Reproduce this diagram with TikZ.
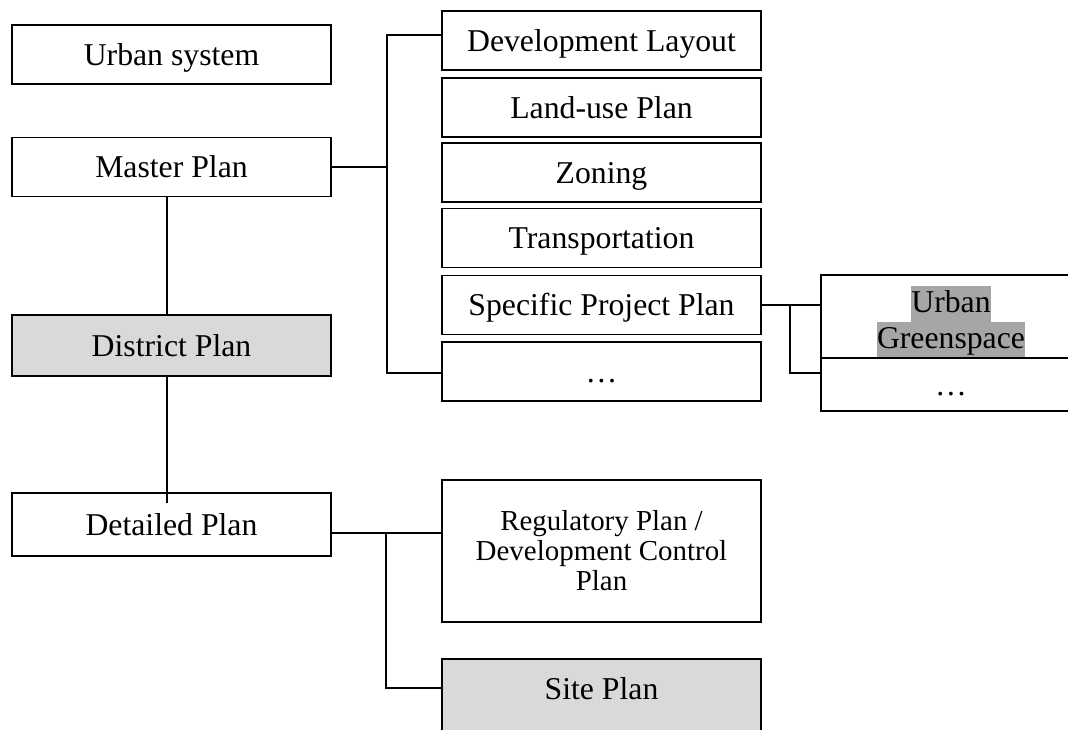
\documentclass[tikz,border=0pt]{standalone}
\usepackage{fontspec}
\setmainfont{Liberation Serif}
\definecolor{lg}{HTML}{D9D9D9}
\definecolor{hl}{HTML}{A6A6A6}
\newcommand\hlw[1]{{\setlength{\fboxsep}{0pt}\colorbox{hl}{\rule[-6.5pt]{0pt}{27pt}#1}}}
\begin{document}
\begin{tikzpicture}[x=0.75pt,y=-0.75pt,
  box/.style={draw=black, line width=1.2pt, inner sep=0pt, fill=white,
    minimum width=239.25pt, minimum height=44.25pt, align=center,
    font=\fontsize{23.8pt}{27pt}\selectfont},
  one/.style={text height=16.3pt, text depth=0pt},
  gbox/.style={box, minimum width=195pt},
  conn/.style={draw=black, line width=0.95pt}]
\useasboundingbox (0,0) rectangle (1068,729);
\clip (0,0) rectangle (1068,729);
% left column
\node[box, one] (us) at (171.5,54.5) {Urban system};
\node[box, one] (mp) at (171.5,167) {Master Plan};
\node[box, one, fill=lg, minimum height=45.75pt] (dp) at (171.5,345.5) {District Plan};
\node[box, one, minimum height=47.25pt] (dtp) at (171.5,524.5) {Detailed Plan};
% right column
\node[box, one] (dl) at (601.5,40.5) {Development Layout};
\node[box, one] (lu) at (601.5,107.5) {Land-use Plan};
\node[box, one] (zn) at (601.5,172.5) {Zoning};
\node[box, one] (tr) at (601.5,238) {Transportation};
\node[box, one] (spp) at (601.5,305) {Specific Project Plan};
\node[box, one] (dots) at (601.5,371.5) {\dots};
\node[box, minimum height=106.5pt, font=\fontsize{21.7pt}{22.5pt}\selectfont] (reg) at (601.5,551)
  {Regulatory Plan /\\Development Control\\Plan};
\node[box, one, fill=lg, minimum height=64.5pt, text depth=20.8pt] (sp) at (601.5,702) {Site Plan};
% far right
\node[gbox, minimum height=62.25pt] (ug) at (951,316.5)
  {\rule{0pt}{28pt}\hlw{Urban}\\\hlw{Greenspace}};
\node[gbox, one, minimum height=39.75pt] (ugd) at (951,384.5) {\dots};
% connector coordinates
\coordinate (b1) at (387,35);
\coordinate (b2) at (387,373);
\coordinate (v1) at (167,0);
\coordinate (v2) at (167,503);
\coordinate (b3) at (386,533);
\coordinate (b4) at (386,688);
\coordinate (b5) at (790,305);
\coordinate (b6) at (790,373);
% connectors
\draw[conn] (mp.east) -- (mp.east -| b1);
\draw[conn] (b1 -| dl.west) -- (b1) -- (b2) -- (b2 -| dots.west);
\draw[conn] (mp.south -| v1) -- (dp.north -| v1);
\draw[conn] (dp.south -| v1) -- (v2);
\draw[conn] (dtp.east |- b3) -- (b3 -| reg.west);
\draw[conn] (b3) -- (b4) -- (b4 -| sp.west);
\draw[conn] (spp.east) -- (spp.east -| ug.west);
\draw[conn] (b5) -- (b6) -- (b6 -| ugd.west);
\end{tikzpicture}
\end{document}
